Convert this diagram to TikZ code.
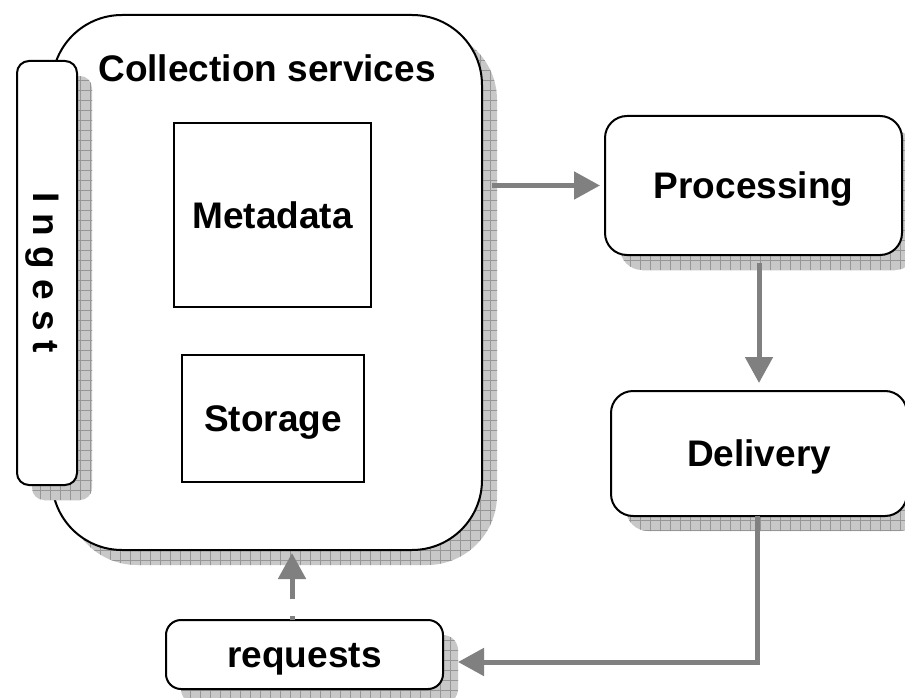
\documentclass[tikz,border=0pt]{standalone}
\usepackage{fontspec}
\setmainfont{Liberation Sans}
\usetikzlibrary{arrows.meta}

\definecolor{arrowgray}{RGB}{128,128,128}
\definecolor{shadowgray}{RGB}{200,200,200}
\definecolor{gridgray}{RGB}{150,150,150}

\pgfdeclarelayer{paper}
\pgfdeclarelayer{shadowlow}
\pgfdeclarelayer{boxlow}
\pgfdeclarelayer{shadowhigh}
\pgfsetlayers{paper,shadowlow,boxlow,shadowhigh,main}

\tikzset{
  panel/.style={draw=black, line width=2pt, fill=white, rounded corners=#1,
                inner sep=0pt, outer sep=0pt},
  plainbox/.style={draw=black, line width=1.6pt, fill=white,
                   inner sep=0pt, outer sep=0pt},
  lbl/.style={font=\fontsize{37}{40}\selectfont\bfseries,
              text height=26.5pt, text depth=0pt, inner sep=0pt},
  conn/.style={draw=arrowgray, line width=5pt,
               -{Triangle[length=26pt,width=27pt]}},
  gridline/.style={draw=gridgray, line width=0.7pt},
}

% hatched drop shadow, offset down and to the right of a node
\newcommand\hatchshadow[2]{%
  \begin{scope}
    \clip[rounded corners=#2] ([shift={(15,15)}]#1.south west)
         rectangle ([shift={(15,15)}]#1.north east);
    \fill[shadowgray] (0,0) rectangle (940,740);
    \draw[gridline, step=10pt] (0,0) grid (940,740);
  \end{scope}}

\begin{document}
\begin{tikzpicture}[x=1pt, y=-1pt]
  \useasboundingbox (0,0) rectangle (905,698);
  \begin{pgfonlayer}{paper}
    \fill[white] (0,0) rectangle (905,698);
  \end{pgfonlayer}

  % collection services container
  \begin{pgfonlayer}{boxlow}
    \node[panel=70, minimum width=430pt, minimum height=535pt] (main) at (267,282.5) {};
  \end{pgfonlayer}
  \begin{pgfonlayer}{shadowlow}
    \hatchshadow{main}{70}
  \end{pgfonlayer}
  \node[lbl] (title) at (267,68.5) {Collection services};

  % ingest strip on the left edge
  \node[panel=12, minimum width=60pt, minimum height=424pt] (ingest) at (47,273) {};
  \begin{pgfonlayer}{shadowhigh}
    \hatchshadow{ingest}{12}
  \end{pgfonlayer}
  \node[lbl, rotate=-90] (ingesttext) at (ingest.center) {I n g e s t};

  % inner stores
  \node[plainbox, minimum width=197pt, minimum height=184pt, lbl] (meta) at (272.5,215) {Metadata};
  \node[plainbox, minimum width=182pt, minimum height=127pt, lbl] (store) at (273,418.5) {Storage};

  % processing, delivery, requests
  \node[panel=22, minimum width=297pt, minimum height=139pt, lbl] (proc) at (753.5,185.5) {Processing};
  \node[panel=22, minimum width=296pt, minimum height=125pt, lbl] (delivery) at (759,453.5) {Delivery};
  \node[panel=15, minimum width=277pt, minimum height=69pt, lbl] (requests) at (304.5,654.5) {requests};
  \begin{pgfonlayer}{shadowlow}
    \hatchshadow{proc}{22}
    \hatchshadow{delivery}{22}
    \hatchshadow{requests}{15}
  \end{pgfonlayer}

  % connectors
  \coordinate (mainout) at ([xshift=10pt]main.east);
  \draw[conn, shorten >=5pt] (mainout |- proc.west) -- (proc.west);
  \draw[conn, shorten <=8pt, shorten >=8pt] (proc.south -| delivery.north) -- (delivery.north);
  \draw[conn, shorten >=15pt] ([xshift=-2pt]delivery.south) |- ([yshift=-7.5pt]requests.east);
  \coordinate (reqout) at ([xshift=-12.5pt]requests.north);
  \draw[conn, shorten >=3pt, dash pattern=on 4pt off 17pt on 300pt]
    (reqout) -- (reqout |- main.south);
\end{tikzpicture}
\end{document}
